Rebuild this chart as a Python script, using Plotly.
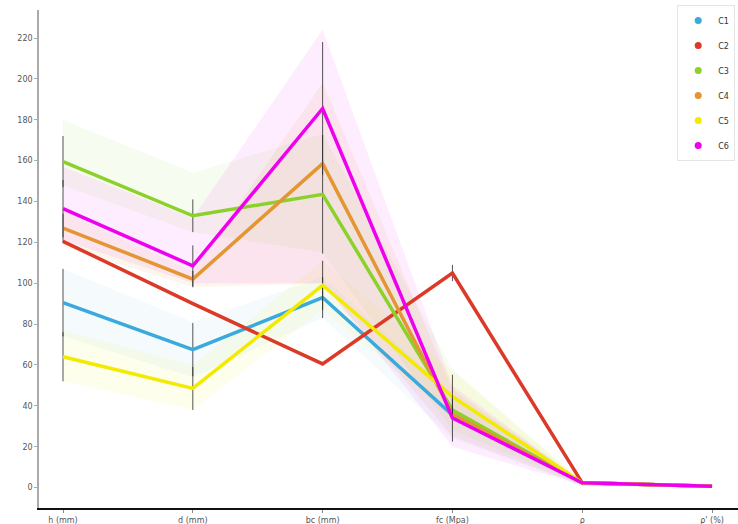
import plotly.graph_objects as go

# Parameters along the x axis
categories = ["h (mm)", "d (mm)", "bc (mm)", "fc (Mpa)", "ρ", "ρ' (%)"]

# Mean values per cluster
series_names = ["C1", "C2", "C3", "C4", "C5", "C6"]
c1 = [90.5, 67.5, 93, 35.5, 2.3, 0.6]
c2 = [120.5, 90, 60.5, 105, 2.3, 0.6]
c3 = [159.5, 133, 143.5, 38, 2.3, 0.6]
c4 = [127, 102, 158.5, 36, 2.3, 0.6]
c5 = [64, 48.5, 99, 44.5, 2.3, 0.6]
c6 = [136.5, 108.5, 185.5, 34, 2.3, 0.6]

# Symmetric error bar half-lengths
c1_err = [16.5, 13, 10, 0, 0, 0]
c2_err = [0, 0, 0, 4, 0, 0]
c3_err = [12.5, 8, 29, 0, 0, 0]
c4_err = [7, 4, 0, 0, 0, 0]
c5_err = [12, 10.5, 12, 10.7, 0, 0]
c6_err = [14, 10, 32.5, 11.5, 0, 0]

# Spread bands (lower / upper bounds)
c1_low = [74, 54, 83, 24, 1, 0]
c1_high = [107, 81, 103, 46, 3, 1]
c3_low = [148, 125, 115, 28, 1, 0]
c3_high = [180, 154, 173, 58, 3, 1]
c4_low = [118, 98, 100, 25, 1, 0]
c4_high = [135, 106, 198, 48, 3, 1]
c5_low = [52, 38, 87, 34, 1, 0]
c5_high = [77, 60, 111, 57, 3, 1]
c6_low = [121, 100, 100, 20, 1, 0]
c6_high = [157, 132, 224, 50, 3, 1]

colors = ["#3aa9dc", "#dc3a28", "#8cd12a", "#e39632", "#f2ea00", "#ee00ee"]
values = [c1, c2, c3, c4, c5, c6]
errors = [c1_err, c2_err, c3_err, c4_err, c5_err, c6_err]
bands = {0: (c1_low, c1_high, 0.05), 2: (c3_low, c3_high, 0.07),
         3: (c4_low, c4_high, 0.09), 4: (c5_low, c5_high, 0.07),
         5: (c6_low, c6_high, 0.07)}


def rgba(hex_color, a):
    h = hex_color.lstrip("#")
    r, g, b = int(h[0:2], 16), int(h[2:4], 16), int(h[4:6], 16)
    return f"rgba({r},{g},{b},{a})"


fig = go.Figure()

# Shaded spread bands behind the lines
for i, (low, high, alpha) in bands.items():
    fig.add_trace(go.Scatter(
        x=categories + categories[::-1],
        y=high + low[::-1],
        mode="lines",
        fill="toself",
        fillcolor=rgba(colors[i], alpha),
        line=dict(width=0),
        hoverinfo="skip",
        showlegend=False,
    ))

# Mean lines with error bars
for name, vals, err, col in zip(series_names, values, errors, colors):
    fig.add_trace(go.Scatter(
        x=categories, y=vals, mode="lines", name=name,
        line=dict(color=col, width=3.5),
        error_y=dict(type="data", array=err, visible=True,
                     color="rgba(40,40,40,0.8)", thickness=1, width=0),
        showlegend=False,
    ))

# Legend entries as dots
for k, (name, col) in enumerate(zip(series_names, colors)):
    fig.add_trace(go.Scatter(
        x=[None], y=[None], mode="markers", name=name,
        marker=dict(color=col, size=7),
        legendgroup=f"g{k}",
    ))

fig.update_layout(
    width=738, height=524,
    margin=dict(l=39, r=0, t=10, b=16),
    paper_bgcolor="white", plot_bgcolor="white",
    font=dict(family="DejaVu Sans", size=8, color="#444"),
    legend=dict(
        x=0.996, y=1.01, xanchor="right", yanchor="top",
        bgcolor="white", bordercolor="#e4e4e4", borderwidth=1,
        font=dict(size=8, color="#333"),
        tracegroupgap=6, itemwidth=30,
    ),
    xaxis=dict(
        type="category", range=[-0.185, 5.2],
        showgrid=False, zeroline=False,
        showline=True, linecolor="#111", linewidth=2,
        ticks="outside", ticklen=3, tickcolor="#888",
        tickfont=dict(size=8, color="#555"),
    ),
    yaxis=dict(
        range=[-10, 233.7],
        tickvals=list(range(0, 221, 20)),
        showgrid=False, zeroline=False,
        showline=True, linecolor="#aaa", linewidth=1.5,
        ticks="outside", ticklen=3, tickcolor="#aaa",
        tickfont=dict(size=8, color="#555"),
    ),
)

fig.write_html("out.html")
